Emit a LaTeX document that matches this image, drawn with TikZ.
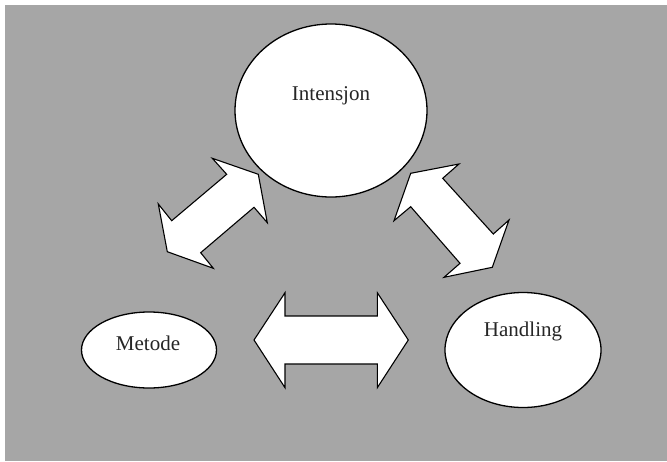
\documentclass[tikz,border=0pt]{standalone}
\usepackage{fontspec}
\setmainfont{Liberation Serif}
\usetikzlibrary{shapes.geometric}
\definecolor{bggray}{RGB}{166,166,166}
\begin{document}
\begin{tikzpicture}[x=1pt,y=-1pt,
  oval/.style={ellipse,draw=black,line width=1.3pt,fill=white,inner sep=0pt},
  blockarrow/.style={draw=black,line width=1.1pt,fill=white,line join=miter},
  label/.style={anchor=base,inner sep=0pt,font=\fontsize{21}{25}\selectfont,text=black!85}]
\useasboundingbox (0,0) rectangle (667,461);
\fill[bggray] (5,5) rectangle (667,461);
% ellipses
\node[oval,minimum width=192pt,minimum height=173pt] (int) at (331,110.5) {};
\node[oval,minimum width=135pt,minimum height=76pt] (met) at (149,350) {};
\node[oval,minimum width=156pt,minimum height=115pt] (hand) at (523,350) {};
% texts
\node[label] (tint) at (331,100) {Intensjon};
\node[label] (tmet) at (148,350) {Metode};
\node[label] (thand) at (523,336) {Handling};
% left diagonal double arrow
\draw[blockarrow] (258.3,174.3) -- (212.3,158.3) -- (226.7,174.3) -- (171.7,220.7)
  -- (158.3,204) -- (167.3,251.7) -- (213.3,268.3) -- (200.7,252.7)
  -- (254,207.3) -- (267.3,222.7) -- cycle;
% right diagonal double arrow
\draw[blockarrow] (410.7,173.3) -- (459,164) -- (442.7,178.3) -- (493.3,234)
  -- (509,220) -- (492.3,267.3) -- (444,277.3) -- (460,263.3)
  -- (410.7,206.7) -- (394,220.7) -- cycle;
% horizontal double arrow
\draw[blockarrow] (254,340) -- (285,292.7) -- (285,316) -- (377.3,316)
  -- (377.3,292.7) -- (408.3,340) -- (377.3,387.7) -- (377.3,364)
  -- (285,364) -- (285,387.7) -- cycle;
\end{tikzpicture}
\end{document}
